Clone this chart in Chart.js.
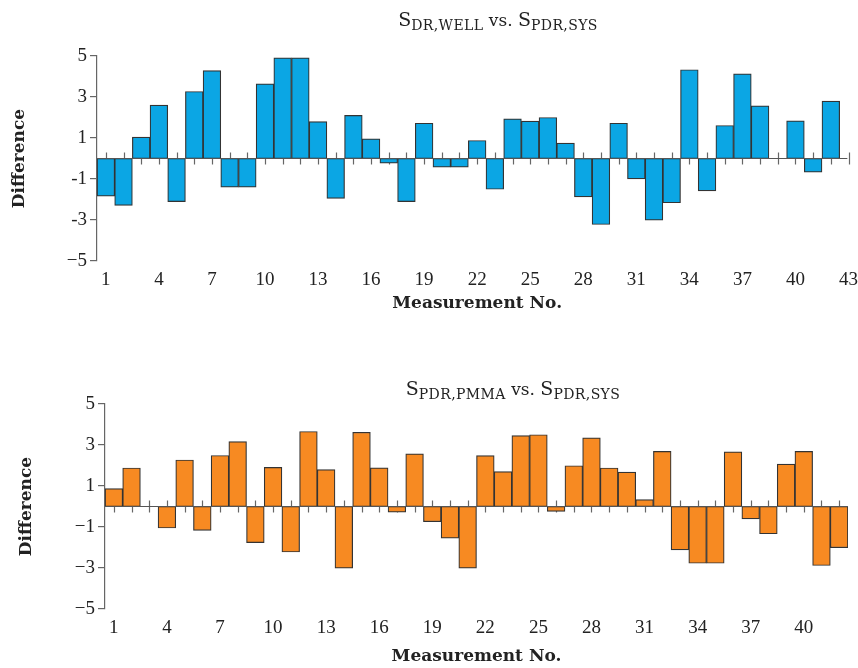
<!DOCTYPE html>
<html>
<head>
<meta charset="utf-8">
<script src="https://cdn.jsdelivr.net/npm/chart.js@4/dist/chart.umd.min.js"></script>
<style>
  body { margin: 0; background: #fff; }
  #wrap { position: relative; width: 858px; height: 668px; }
  .box { position: absolute; left: 0; width: 858px; }
  .ttl { position: absolute; width: 600px; text-align: center; font-family: 'DejaVu Serif', serif; font-size: 19px; color: #222; white-space: nowrap; }
  .ttl .vs { font-size: 17px; }
  .ttl sub { font-size: 14px; vertical-align: -4px; letter-spacing: 0.4px; }
</style>
</head>
<body>
<div id="wrap">
  <div class="box" style="top:0;height:320px"><canvas id="c1" width="858" height="320"></canvas></div>
  <div class="box" style="top:320px;height:348px"><canvas id="c2" width="858" height="348"></canvas></div>
  <div class="ttl" style="left:198px;top:8px">S<sub>DR,WELL</sub><span class="vs"> vs. </span>S<sub>PDR,SYS</sub></div>
  <div class="ttl" style="left:213px;top:377px">S<sub>PDR,PMMA</sub><span class="vs"> vs. </span>S<sub>PDR,SYS</sub></div>
</div>
<script>
// measurement numbers
var labelsTop = [];
for (var i = 1; i <= 43; i++) labelsTop.push(i);
var labelsBottom = labelsTop.slice(0, 42);

// S_DR,WELL vs S_PDR,SYS (43 = no value)
var diffWell = [-1.84, -2.29, 1.04, 2.60, -2.10, 3.27, 4.29, -1.40, -1.40, 3.64,
                4.91, 4.91, 1.80, -1.95, 2.10, 0.96, -0.23, -2.10, 1.72, -0.42,
                -0.42, 0.88, -1.50, 1.93, 1.82, 2.00, 0.75, -1.87, -3.22, 1.72,
                -0.99, -3.01, -2.16, 4.33, -1.58, 1.61, 4.13, 2.57, null, 1.84,
                -0.67, 2.80, null];

// S_PDR,PMMA vs S_PDR,SYS
var diffPmma = [0.87, 1.88, null, -1.05, 2.27, -1.17, 2.49, 3.17, -1.76, 1.91,
                -2.22, 3.66, 1.80, -3.01, 3.62, 1.89, -0.28, 2.57, -0.74, -1.54,
                -3.01, 2.48, 1.70, 3.46, 3.50, -0.24, 1.99, 3.35, 1.88, 1.68,
                0.34, 2.69, -2.12, -2.77, -2.77, 2.67, -0.60, -1.33, 2.07, 2.69,
                -2.88, -2.01];

var yTicksTop = {5: '5', 3: '3', 1: '1', '-1': '-1', '-3': '-3', '-5': '\u22125'};
var yTicksBottom = {5: '5', 3: '3', 1: '1', '-1': '\u22121', '-3': '\u22123', '-5': '\u22125'};

// zero line with little ticks at each measurement
var zeroLine = {
    id: 'zeroLine',
    beforeDatasetsDraw: function (chart) {
        var ctx = chart.ctx, xs = chart.scales.x, y0 = chart.scales.y.getPixelForValue(0);
        ctx.save();
        ctx.strokeStyle = '#666';
        ctx.lineWidth = 1.2;
        for (var i = 0; i < chart.data.labels.length; i++) {
            var px = Math.round(xs.getPixelForValue(i)) + 0.5;
            ctx.beginPath();
            ctx.moveTo(px, y0 - 6);
            ctx.lineTo(px, y0 + 6);
            ctx.stroke();
        }
        ctx.restore();
    },
    afterDatasetsDraw: function (chart) {
        var ctx = chart.ctx, a = chart.chartArea, y0 = chart.scales.y.getPixelForValue(0);
        ctx.save();
        ctx.strokeStyle = '#555';
        ctx.lineWidth = 1.2;
        ctx.beginPath();
        ctx.moveTo(a.left, y0);
        ctx.lineTo(a.right - chart.options.zeroTrim, y0);
        ctx.stroke();
        ctx.restore();
    }
};

function makeChart(id, labels, values, color, yTicks, axisW, padTop, padRight, trim, titlePad, xTitleBottom) {
    return new Chart(document.getElementById(id), {
        type: 'bar',
        data: {
            labels: labels,
            datasets: [{
                data: values,
                backgroundColor: color,
                borderColor: '#333',
                borderWidth: 1.2,
                borderSkipped: false,
                categoryPercentage: 1.0,
                barPercentage: 1.0
            }]
        },
        options: {
            responsive: false,
            animation: false,
            zeroTrim: trim,
            layout: { padding: { top: padTop, right: padRight, left: 0, bottom: 0 } },
            plugins: { legend: { display: false }, tooltip: { enabled: false } },
            scales: {
                x: {
                    grid: { display: false },
                    border: { display: false },
                    ticks: {
                        autoSkip: false,
                        maxRotation: 0,
                        padding: 0,
                        color: '#222',
                        font: { family: 'Liberation Serif', size: 19 },
                        callback: function (v, i) { return i % 3 == 0 ? labels[i] : ''; }
                    },
                    title: {
                        display: true,
                        text: 'Measurement No.',
                        color: '#222',
                        font: { family: 'DejaVu Serif', size: 17, weight: 'bold' },
                        padding: { top: 4, bottom: xTitleBottom }
                    },
                    afterFit: function (s) { s.height = 59; }
                },
                y: {
                    min: -5,
                    max: 5,
                    grid: { drawOnChartArea: false, drawTicks: true, tickLength: 7, color: '#666', lineWidth: 1.2 },
                    border: { display: true, color: '#666', width: 1.2 },
                    ticks: {
                        stepSize: 2,
                        padding: 3,
                        color: '#222',
                        font: { family: 'Liberation Serif', size: 19 },
                        callback: function (v) { return yTicks[v]; }
                    },
                    title: {
                        display: true,
                        text: 'Difference',
                        color: '#222',
                        font: { family: 'DejaVu Serif', size: 17, weight: 'bold' },
                        padding: { top: titlePad, bottom: 4 }
                    },
                    afterFit: function (s) { s.width = axisW; }
                }
            }
        },
        plugins: [zeroLine]
    });
}

makeChart('c1', labelsTop, diffWell, '#0ba6e4', yTicksTop, 97, 56, 0, 10, 9, 6);
makeChart('c2', labelsBottom, diffPmma, '#f78a22', yTicksBottom, 105, 84, 10, 0, 16, 1);
</script>
</body>
</html>
